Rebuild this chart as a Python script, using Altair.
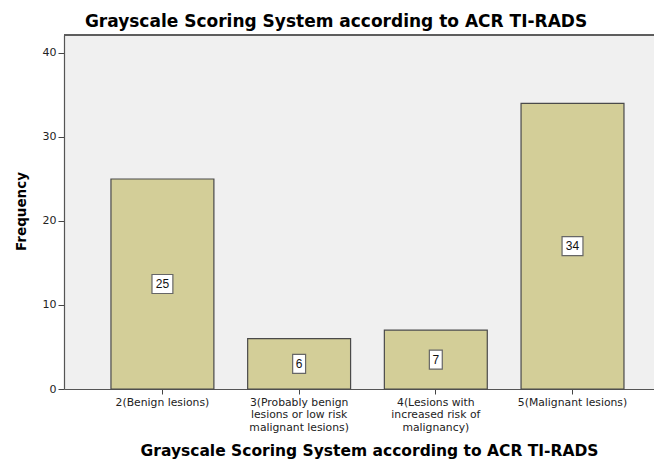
import altair as alt
import pandas as pd

categories = [
    "2(Benign lesions)",
    "3(Probably benign|lesions or low risk|malignant lesions)",
    "4(Lesions with|increased risk of|malignancy)",
    "5(Malignant lesions)",
]
frequencies = [25, 6, 7, 34]

box_two = "M-1.1,-1H1.1V1H-1.1Z"
box_one = "M-0.68,-1H0.68V1H-0.68Z"

df = pd.DataFrame({"category": categories, "frequency": frequencies})
df["label"] = df["frequency"].astype(str)
df["box"] = [box_two if len(s) > 1 else box_one for s in df["label"]]

FONT = "DejaVu Sans"
W, H = 590, 354

x_enc = alt.X(
    "category:N",
    sort=categories,
    scale=alt.Scale(paddingInner=0.247, paddingOuter=0.2816, align=0.61),
    axis=alt.Axis(
        title="Grayscale Scoring System according to ACR TI-RADS",
        titleFont=FONT, titleFontSize=15.5, titleFontWeight="bold", titleColor="#000",
        titleX=305, titleY=61, titleBaseline="middle", titleAlign="center",
        labelExpr="split(datum.value, '|')",
        labelAngle=0, labelFont=FONT, labelFontSize=10.8, labelColor="#222",
        labelLineHeight=12.6, labelPadding=2, labelBaseline="top",
        tickColor="#444", tickSize=5, domainColor="#555", domainWidth=1.2,
    ),
)
y_scale = alt.Scale(domain=[0, 42.14], nice=False)

bars = alt.Chart(df).mark_bar(
    fill="#D3CE98", stroke="#4a4a4a", strokeWidth=1.2
).encode(
    x=x_enc,
    y=alt.Y(
        "frequency:Q",
        scale=y_scale,
        axis=alt.Axis(
            title="Frequency", values=[0, 10, 20, 30, 40], grid=False,
            titleFont=FONT, titleFontSize=13.5, titleFontWeight="bold", titleColor="#000",
            titleX=-43, titleY=176, titleAngle=270, titleAlign="center", titleBaseline="middle",
            labelFont=FONT, labelFontSize=11, labelColor="#222", labelPadding=2,
            tickColor="#444", tickSize=6, domainColor="#555", domainWidth=1.2,
        ),
    ),
)

boxes = alt.Chart(df).transform_calculate(mid="datum.frequency / 2").mark_point(
    filled=True, fill="white", stroke="#666", strokeWidth=1.2, opacity=1
).encode(
    x=alt.X("category:N", sort=categories),
    y=alt.Y("mid:Q", scale=y_scale),
    shape=alt.Shape("box:N", scale=None, legend=None),
    size=alt.value(361),
)

texts = alt.Chart(df).transform_calculate(mid="datum.frequency / 2").mark_text(
    font="Liberation Sans", fontSize=12, color="#111", baseline="middle", align="center"
).encode(
    x=alt.X("category:N", sort=categories),
    y=alt.Y("mid:Q", scale=y_scale),
    text="label:N",
)

top_line = alt.Chart(df).mark_rule(color="#555", strokeWidth=1.2).encode(
    x=alt.value(0), x2=alt.value(W), y=alt.value(0)
)

chart = alt.layer(bars, boxes, texts, top_line).properties(
    width=W, height=H,
    title=alt.TitleParams(
        "Grayscale Scoring System according to ACR TI-RADS",
        font=FONT, fontSize=17, fontWeight="bold", color="#000",
        anchor="middle", dx=-23, offset=3,
    ),
    padding={"left": 56, "top": 27, "right": 0, "bottom": 70},
    autosize=alt.AutoSizeParams(type="none"),
).configure(
    background="white",
    view=alt.ViewConfig(fill="#F0F0F0", stroke=None),
)

chart.save("out.html", embed_options={"renderer": "svg", "actions": False})
